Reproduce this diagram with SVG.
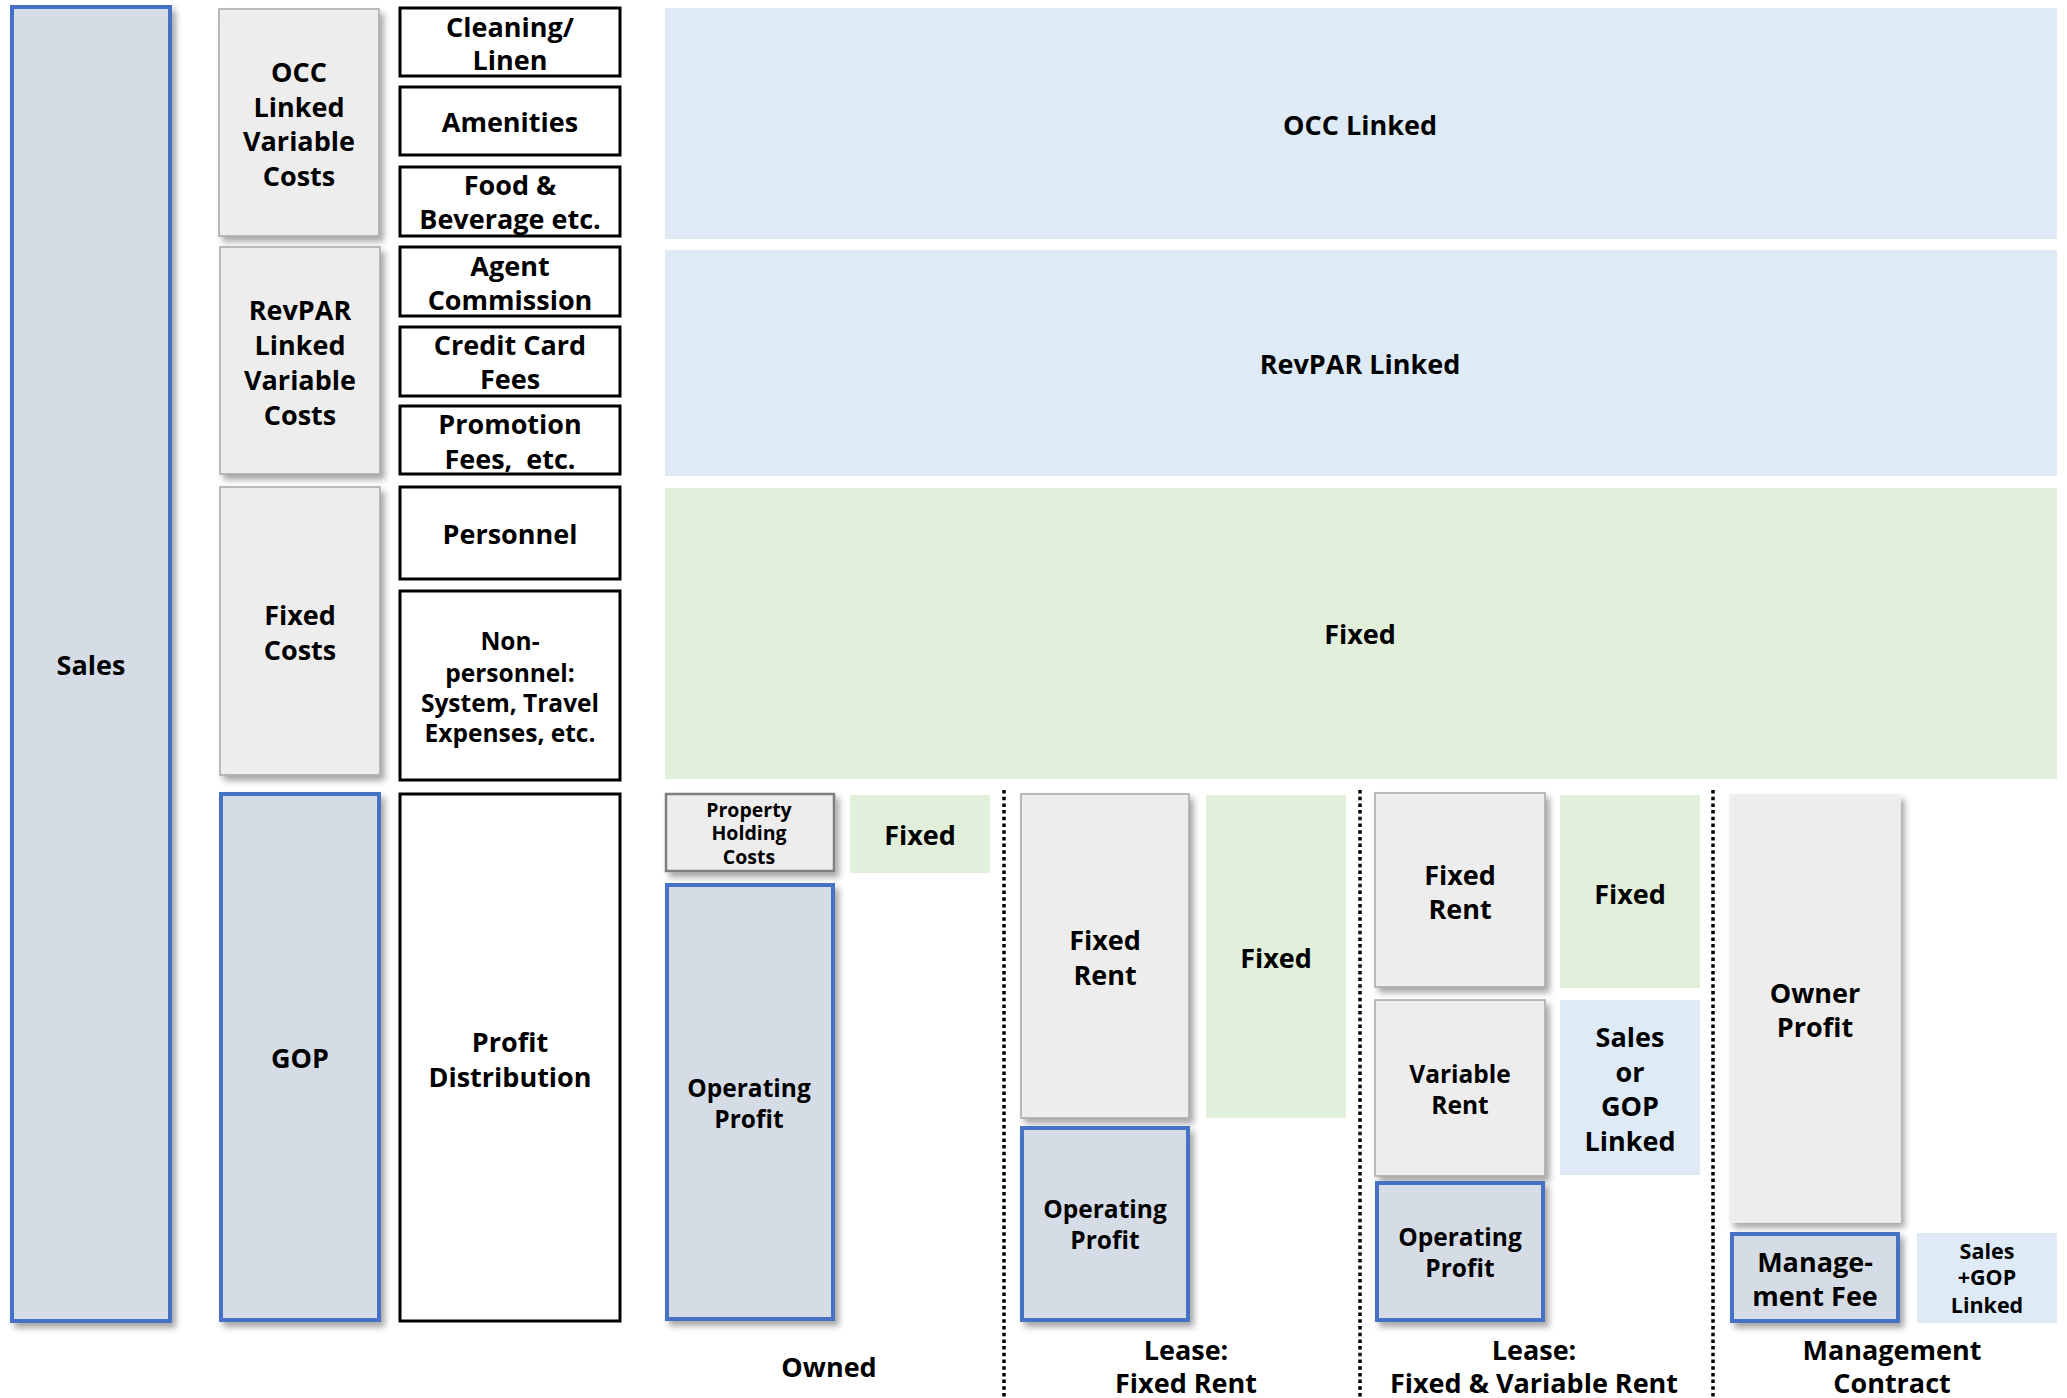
<svg xmlns="http://www.w3.org/2000/svg" width="2067" height="1398" viewBox="0 0 2067 1398">
<defs>
<filter id="sh" x="-10%" y="-10%" width="130%" height="130%">
<feDropShadow dx="4" dy="5" stdDeviation="3" flood-color="#000" flood-opacity="0.35"/>
</filter>
<style>
text{font-family:"Open Sans","Noto Sans","Liberation Sans",sans-serif;font-weight:bold;fill:#000;text-anchor:middle;}
.t28{font-size:27px}
.t25{font-size:24.5px}
.t22{font-size:21.5px}
.t20{font-size:19.5px}
.blue{fill:#D6DCE5;stroke:#4472C4;stroke-width:4;filter:url(#sh)}
.gray{fill:#EDEDED;stroke:#A6A6A6;stroke-width:1.5;filter:url(#sh)}
.grayd{fill:#EDEDED;stroke:#7F7F7F;stroke-width:2.5;filter:url(#sh)}
.blk{fill:#FFFFFF;stroke:#000;stroke-width:3}
.lb{fill:#DEEAF6}
.lg{fill:#E2EFDA}
.dot{stroke:#000;stroke-width:3.5;stroke-dasharray:3.5 3.2;fill:none}
</style>
</defs>
<rect width="2067" height="1398" fill="#FFFFFF"/>

<g id="connectors">
<line class="dot" x1="1004" y1="790" x2="1004" y2="1398"/>
<line class="dot" x1="1360" y1="790" x2="1360" y2="1398"/>
<line class="dot" x1="1713" y1="790" x2="1713" y2="1398"/>
</g>

<g id="sales"><rect class="blue" x="12" y="7" width="158" height="1314"/><text class="t28" x="91" y="675">Sales</text></g>

<g id="occ-costs"><rect class="gray" x="219" y="9" width="160" height="227"/>
<text class="t28" x="299" y="82">OCC</text><text class="t28" x="299" y="117">Linked</text><text class="t28" x="299" y="151">Variable</text><text class="t28" x="299" y="186">Costs</text></g>
<g id="revpar-costs"><rect class="gray" x="220" y="247" width="160" height="227"/>
<text class="t28" x="300" y="320">RevPAR</text><text class="t28" x="300" y="355">Linked</text><text class="t28" x="300" y="390">Variable</text><text class="t28" x="300" y="425">Costs</text></g>
<g id="fixed-costs"><rect class="gray" x="220" y="487" width="160" height="288"/>
<text class="t28" x="300" y="625">Fixed</text><text class="t28" x="300" y="660">Costs</text></g>
<g id="gop"><rect class="blue" x="221" y="794" width="158" height="526"/><text class="t28" x="300" y="1068">GOP</text></g>

<g id="cleaning"><rect class="blk" x="400" y="8" width="220" height="68"/><text class="t28" x="510" y="37">Cleaning/</text><text class="t28" x="510" y="70">Linen</text></g>
<g id="amenities"><rect class="blk" x="400" y="87" width="220" height="68"/><text class="t28" x="510" y="132">Amenities</text></g>
<g id="food"><rect class="blk" x="400" y="167" width="220" height="69"/><text class="t28" x="510" y="195">Food &amp;</text><text class="t28" x="510" y="229">Beverage etc.</text></g>
<g id="agent"><rect class="blk" x="400" y="247" width="220" height="69"/><text class="t28" x="510" y="276">Agent</text><text class="t28" x="510" y="310">Commission</text></g>
<g id="credit"><rect class="blk" x="400" y="327" width="220" height="69"/><text class="t28" x="510" y="355">Credit Card</text><text class="t28" x="510" y="389">Fees</text></g>
<g id="promotion"><rect class="blk" x="400" y="406" width="220" height="68"/><text class="t28" x="510" y="434">Promotion</text><text class="t28" x="510" y="469" xml:space="preserve">Fees,  etc.</text></g>
<g id="personnel"><rect class="blk" x="400" y="487" width="220" height="92"/><text class="t28" x="510" y="544">Personnel</text></g>
<g id="nonpersonnel"><rect class="blk" x="400" y="591" width="220" height="189"/>
<text class="t25" x="510" y="650">Non-</text><text class="t25" x="510" y="682">personnel:</text><text class="t25" x="510" y="712">System, Travel</text><text class="t25" x="510" y="742">Expenses, etc.</text></g>
<g id="profit-dist"><rect class="blk" x="400" y="794" width="220" height="527"/><text class="t28" x="510" y="1052">Profit</text><text class="t28" x="510" y="1087">Distribution</text></g>

<g id="band-occ"><rect class="lb" x="665" y="8" width="1392" height="231"/><text class="t28" x="1360" y="135">OCC Linked</text></g>
<g id="band-revpar"><rect class="lb" x="665" y="250" width="1392" height="226"/><text class="t28" x="1360" y="374">RevPAR Linked</text></g>
<g id="band-fixed"><rect class="lg" x="665" y="488" width="1392" height="291"/><text class="t28" x="1360" y="644">Fixed</text></g>

<g id="owned-holding"><rect class="grayd" x="666" y="794" width="168" height="77"/>
<text class="t20" x="749" y="817">Property</text><text class="t20" x="749" y="840">Holding</text><text class="t20" x="749" y="864">Costs</text></g>
<g id="owned-fixed"><rect class="lg" x="850" y="795" width="140" height="78"/><text class="t28" x="920" y="845">Fixed</text></g>
<g id="owned-op"><rect class="blue" x="667" y="885" width="166" height="434"/><text class="t25" x="749" y="1097">Operating</text><text class="t25" x="749" y="1128">Profit</text></g>
<g id="owned-label"><text class="t28" x="829" y="1377">Owned</text></g>

<g id="lf-rent"><rect class="gray" x="1021" y="794" width="168" height="324"/><text class="t28" x="1105" y="950">Fixed</text><text class="t28" x="1105" y="985">Rent</text></g>
<g id="lf-fixed"><rect class="lg" x="1206" y="795" width="140" height="323"/><text class="t28" x="1276" y="968">Fixed</text></g>
<g id="lf-op"><rect class="blue" x="1022" y="1128" width="166" height="192"/><text class="t25" x="1105" y="1218">Operating</text><text class="t25" x="1105" y="1249">Profit</text></g>
<g id="lf-label"><text class="t28" x="1186" y="1360">Lease:</text><text class="t28" x="1186" y="1393">Fixed Rent</text></g>

<g id="lfv-rent"><rect class="gray" x="1375" y="793" width="170" height="194"/><text class="t28" x="1460" y="885">Fixed</text><text class="t28" x="1460" y="919">Rent</text></g>
<g id="lfv-fixed"><rect class="lg" x="1560" y="795" width="140" height="193"/><text class="t28" x="1630" y="904">Fixed</text></g>
<g id="lfv-var"><rect class="gray" x="1375" y="1000" width="170" height="176"/><text class="t25" x="1460" y="1083">Variable</text><text class="t25" x="1460" y="1114">Rent</text></g>
<g id="lfv-linked"><rect class="lb" x="1560" y="1000" width="140" height="175"/>
<text class="t28" x="1630" y="1047">Sales</text><text class="t28" x="1630" y="1082">or</text><text class="t28" x="1630" y="1116">GOP</text><text class="t28" x="1630" y="1151">Linked</text></g>
<g id="lfv-op"><rect class="blue" x="1377" y="1183" width="166" height="137"/><text class="t25" x="1460" y="1246">Operating</text><text class="t25" x="1460" y="1277">Profit</text></g>
<g id="lfv-label"><text class="t28" x="1534" y="1360">Lease:</text><text class="t28" x="1534" y="1393">Fixed &amp; Variable Rent</text></g>

<g id="mc-owner"><rect class="gray" x="1730" y="795" width="170" height="427" style="stroke:#EDEDED"/><text class="t28" x="1815" y="1003">Owner</text><text class="t28" x="1815" y="1037">Profit</text></g>
<g id="mc-fee"><rect class="blue" x="1732" y="1234" width="166" height="87"/><text class="t28" x="1815" y="1272">Manage-</text><text class="t28" x="1815" y="1306">ment Fee</text></g>
<g id="mc-linked"><rect class="lb" x="1917" y="1233" width="140" height="90"/>
<text class="t22" x="1987" y="1259">Sales</text><text class="t22" x="1987" y="1285">+GOP</text><text class="t22" x="1987" y="1313">Linked</text></g>
<g id="mc-label"><text class="t28" x="1892" y="1360">Management</text><text class="t28" x="1892" y="1393">Contract</text></g>
</svg>
